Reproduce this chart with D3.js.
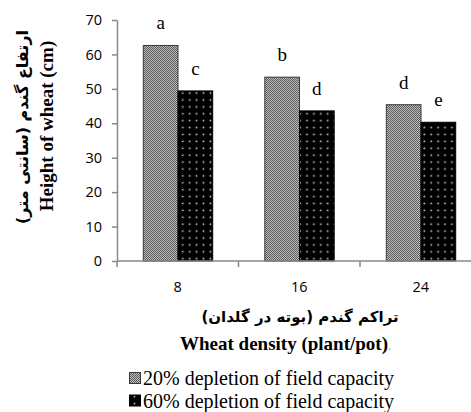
<!DOCTYPE html>
<html>
<head>
<meta charset="utf-8">
<script src="https://cdn.jsdelivr.net/npm/d3@7/dist/d3.min.js"></script>
<style>
  html, body { margin: 0; padding: 0; background: #fff; }
  svg { display: block; }
</style>
</head>
<body>
<svg id="chart" width="471" height="412"></svg>
<script>
// ---- data ----
const categories = ["8", "16", "24"];
const seriesNames = ["20% depletion of field capacity", "60% depletion of field capacity"];
const series20 = [62.6, 53.4, 45.4];
const series60 = [49.4, 43.6, 40.3];
const letters20 = ["a", "b", "d"];
const letters60 = ["c", "d", "e"];
const yTicks = [0, 10, 20, 30, 40, 50, 60, 70];
const yTitleFa = "ارتفاع گندم (سانتی متر)";
const yTitleEn = "Height of wheat (cm)";
const xTitleFa = "تراکم گندم (بوته در گلدان)";
const xTitleEn = "Wheat density (plant/pot)";

(function () {
const svg = d3.select("#chart");
const mLeft = 117, mRight = 481.5, mTop = 20, mBottom = 261;
const axisColor = "#898989";

// patterns
const defs = svg.append("defs");
const p1 = defs.append("pattern").attr("id", "pat20").attr("patternUnits", "userSpaceOnUse")
  .attr("width", 2).attr("height", 2);
p1.append("rect").attr("width", 2).attr("height", 2).attr("fill", "#bcbcbc");
p1.append("rect").attr("x", 0).attr("y", 0).attr("width", 1).attr("height", 1).attr("fill", "#5c5c5c");
p1.append("rect").attr("x", 1).attr("y", 1).attr("width", 1).attr("height", 1).attr("fill", "#5c5c5c");

const p2 = defs.append("pattern").attr("id", "pat60").attr("patternUnits", "userSpaceOnUse")
  .attr("width", 6.9).attr("height", 6.9);
p2.append("rect").attr("width", 6.9).attr("height", 6.9).attr("fill", "#000");
p2.append("circle").attr("cx", 3.4).attr("cy", 3.4).attr("r", 0.9).attr("fill", "#d0d0d0");

const fills = ["url(#pat20)", "url(#pat60)"];
const strokes = ["#3a3a3a", "#000"];

// scales
const x = d3.scaleBand().domain(categories).range([mLeft, mRight]).padding(0);
const inner = d3.scaleBand().domain([0, 1]).range([26.3, 26.3 + 69.4]).padding(0);
const y = d3.scaleLinear().domain([0, 70]).range([mBottom, mTop]);

const data = categories.map((c, i) => ({
  cat: c,
  vals: [
    { s: 0, v: series20[i], l: letters20[i] },
    { s: 1, v: series60[i], l: letters60[i] }
  ]
}));

// bars
const g = svg.append("g");
data.forEach(d => {
  d.vals.forEach(b => {
    const bx = x(d.cat) + inner(b.s);
    g.append("rect")
      .attr("x", bx).attr("y", y(b.v))
      .attr("width", inner.bandwidth()).attr("height", y(0) - y(b.v))
      .attr("fill", fills[b.s]).attr("stroke", strokes[b.s]).attr("stroke-width", 1);
    g.append("text")
      .attr("x", bx + inner.bandwidth() / 2).attr("y", y(b.v) - 16)
      .attr("text-anchor", "middle")
      .attr("font-family", "Liberation Serif, Times New Roman, serif")
      .attr("font-size", 19).attr("fill", "#000")
      .text(b.l);
  });
});

// y axis
const yAxis = svg.append("g").attr("transform", `translate(${mLeft},0)`)
  .call(d3.axisLeft(y).tickValues(yTicks).tickSize(5).tickSizeOuter(0).tickPadding(10));
yAxis.select(".domain").attr("stroke", axisColor).attr("stroke-width", 1.5);
yAxis.selectAll(".tick line").attr("stroke", axisColor).attr("stroke-width", 1.5);
yAxis.selectAll(".tick text").attr("font-family", "Open Sans, sans-serif").attr("font-size", 14.5).attr("fill", "#000");

// x axis
const xAxisG = svg.append("g").attr("transform", `translate(0,${mBottom})`);
xAxisG.append("line").attr("x1", mLeft).attr("x2", 471).attr("y1", 0).attr("y2", 0)
  .attr("stroke", axisColor).attr("stroke-width", 1.5);
const boundaries = categories.map(c => x(c)).concat([x(categories[categories.length - 1]) + x.bandwidth()]);
xAxisG.selectAll("line.tk").data(boundaries).enter().append("line").attr("class", "tk")
  .attr("x1", d => d).attr("x2", d => d).attr("y1", 0).attr("y2", 6)
  .attr("stroke", axisColor).attr("stroke-width", 1.5);
xAxisG.selectAll("text.lbl").data(categories).enter().append("text").attr("class", "lbl")
  .attr("x", d => x(d) + x.bandwidth() / 2).attr("y", 31)
  .attr("text-anchor", "middle")
  .attr("font-family", "Open Sans, sans-serif").attr("font-size", 14.5).attr("fill", "#000")
  .text(d => d);

// axis titles
svg.append("text")
  .attr("transform", "translate(22,127) rotate(-90)")
  .attr("text-anchor", "middle").attr("dominant-baseline", "central")
  .attr("font-family", "DejaVu Sans, sans-serif").attr("font-weight", "bold").attr("font-size", 16)
  .attr("direction", "rtl")
  .text(yTitleFa);
svg.append("text")
  .attr("transform", "translate(53,126) rotate(-90)")
  .attr("text-anchor", "middle")
  .attr("font-family", "Liberation Serif, Times New Roman, serif").attr("font-weight", "bold").attr("font-size", 19)
  .text(yTitleEn);

svg.append("text")
  .attr("x", 300).attr("y", 322)
  .attr("text-anchor", "middle")
  .attr("font-family", "DejaVu Sans, sans-serif").attr("font-weight", "bold").attr("font-size", 15)
  .attr("direction", "rtl")
  .text(xTitleFa);
const xt = svg.append("text")
  .attr("x", 180).attr("y", 350)
  .attr("font-family", "Liberation Serif, Times New Roman, serif").attr("font-size", 19);
xt.append("tspan").attr("font-weight", "bold").text(xTitleEn);
xt.append("tspan").attr("fill", "#888").attr("font-size", 12).text(".");

// legend
const leg = svg.append("g");
seriesNames.forEach((n, i) => {
  const ly = 385 + i * 22.5;
  leg.append("rect").attr("x", 129.5).attr("y", ly - 12.5).attr("width", 11).attr("height", 11)
    .attr("fill", fills[i]).attr("stroke", strokes[i]).attr("stroke-width", 1);
  leg.append("text").attr("x", 143).attr("y", ly)
    .attr("font-family", "Liberation Serif, Times New Roman, serif").attr("font-size", 20).attr("fill", "#000")
    .text(n);
});
})();
</script>
</body>
</html>
